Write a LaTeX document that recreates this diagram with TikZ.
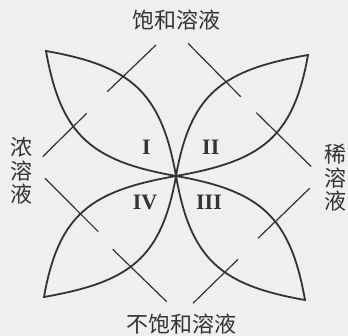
\documentclass[tikz,border=0pt]{standalone}
\usepackage{fontspec}
\setmainfont{Liberation Serif}
\newfontfamily\cjk{Noto Sans CJK SC}
\definecolor{ink}{HTML}{333333}
\definecolor{bg}{HTML}{EFEFEF}
\begin{document}
\begin{tikzpicture}[x=1pt,y=1pt,
  petal/.style={draw=ink, line width=1.8pt, line join=miter, looseness=1.22},
  tickline/.style={draw=ink, line width=1.2pt},
  lab/.style={font=\cjk\fontsize{22}{23.5}\selectfont, text=ink, inner sep=0pt, align=center},
  num/.style={font=\fontsize{22}{22}\selectfont\bfseries, text=ink, inner sep=0pt}]
\fill[bg] (0,0) rectangle (348,336);
\useasboundingbox (0,0) rectangle (348,336);
% centre and petal tips
\coordinate (C) at (176,160);
\coordinate (tI) at (46,285);
\coordinate (tII) at (308,281);
\coordinate (tIII) at (305,36);
\coordinate (tIV) at (44,39);
% petals
\draw[petal] (C) to[out=100,in=-10] (tI) to[out=-80,in=170] cycle;
\draw[petal] (C) to[out=80,in=-170] (tII) to[out=-100,in=10] cycle;
\draw[petal] (C) to[out=-80,in=170] (tIII) to[out=100,in=-10] cycle;
\draw[petal] (C) to[out=-100,in=10] (tIV) to[out=80,in=-170] cycle;
% tick segments
\coordinate (a1) at (107.3,244.3); \coordinate (a2) at (156,291);
\coordinate (b1) at (42.7,179.3);  \coordinate (b2) at (86.7,222.7);
\coordinate (c1) at (188,292.7);   \coordinate (c2) at (240.7,239.3);
\coordinate (d1) at (256.3,223.3); \coordinate (d2) at (311.3,169.3);
\coordinate (e1) at (45,157.7);    \coordinate (e2) at (98.3,104.3);
\coordinate (f1) at (112.7,86.7);  \coordinate (f2) at (166.7,34.3);
\coordinate (g1) at (258,97.7);    \coordinate (g2) at (309.7,147.7);
\coordinate (h1) at (193,32.7);    \coordinate (h2) at (238,76.7);
\draw[tickline] (a1) -- (a2);
\draw[tickline] (b1) -- (b2);
\draw[tickline] (c1) -- (c2);
\draw[tickline] (d1) -- (d2);
\draw[tickline] (e1) -- (e2);
\draw[tickline] (f1) -- (f2);
\draw[tickline] (g1) -- (g2);
\draw[tickline] (h1) -- (h2);
% labels
\node[lab] (sat) at (176.7,315.5) {饱和溶液};
\node[lab] (unsat) at (181.7,12) {不饱和溶液};
\node[lab] (conc) at (21.3,165) {浓\\溶\\液};
\node[lab] (dil) at (335,158) {稀\\溶\\液};
% region numerals
\node[num] (nI) at (146.3,188.5) {I};
\node[num] (nII) at (210.8,188.5) {II};
\node[num] (nIII) at (209,133.5) {III};
\node[num] (nIV) at (145,133.5) {IV};
\end{tikzpicture}
\end{document}
